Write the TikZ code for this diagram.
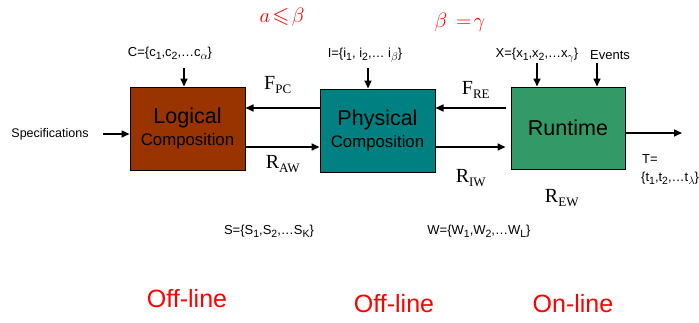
\documentclass[tikz,border=0pt]{standalone}
\usepackage{amssymb}
\usepackage{fontspec}
\setmainfont{Liberation Sans}
\newfontfamily\serifont{Liberation Serif}
\usetikzlibrary{arrows.meta}
\definecolor{brn}{HTML}{993300}
\definecolor{tel}{HTML}{008080}
\definecolor{grn}{HTML}{339966}
\newcommand{\sbs}[1]{\raisebox{-3pt}{\fontsize{10.5}{10.5}\selectfont #1}}
\tikzset{
  blk/.style={draw=black, line width=1pt, minimum width=115pt, minimum height=83pt, inner sep=0pt, align=center},
  arr/.style={-{Triangle[length=8pt,width=7pt]}, line width=1.6pt},
  setlab/.style={font=\fontsize{13}{15}\selectfont, inner sep=1pt},
  rel/.style={font=\serifont\fontsize{20}{22}\selectfont, inner sep=1pt},
  mode/.style={text=red, font=\fontsize{25}{28}\selectfont, inner sep=1pt},
  cond/.style={text=red, font=\fontsize{22}{26}\selectfont, inner sep=1pt}
}
\begin{document}
\begin{tikzpicture}[x=1pt,y=-1pt]
\clip (0,0) rectangle (699,322);
\fill[white] (0,0) rectangle (699,322);
% blocks
\node[blk, fill=brn] (logic) at (187.5,128.5) {{\fontsize{21.5}{24}\selectfont Logical}\\[4pt]{\fontsize{16.8}{19}\selectfont Composition}};
\node[blk, fill=tel] (phys) at (377.5,130.5) {{\fontsize{21.5}{24}\selectfont Physical}\\[4pt]{\fontsize{16.8}{19}\selectfont Composition}};
\node[blk, fill=grn, minimum width=114pt, minimum height=82pt] (run) at (568,128) {\fontsize{21.5}{24}\selectfont Runtime};
% conditions
\node[cond] (c1) at (282,17) {$a\!\leqslant\!\beta$};
\node[cond] (c2) at (460,22) {$\beta\,=\!\gamma$};
% sets above
\node[setlab] (cset) at (170,53) {C=\{c\sbs{1},c\sbs{2},\dots c\sbs{$\alpha$}\}};
\node[setlab] (iset) at (365,55) {I=\{i\sbs{1}, i\sbs{2},\dots\ i\sbs{$\beta$}\}};
\node[setlab] (xset) at (537,55) {X=\{x\sbs{1},x\sbs{2},\dots x\sbs{$\gamma$}\}};
\node[setlab] (ev) at (610,55) {Events};
\coordinate (ca) at (184,68);
\coordinate (ia) at (368,68);
\coordinate (xa) at (537,63);
\coordinate (ea) at (597,63);
\draw[arr] (ca) -- (ca |- logic.north);
\draw[arr] (ia) -- (ia |- phys.north);
\draw[arr] (xa) -- (xa |- run.north);
\draw[arr] (ea) -- (ea |- run.north);
% specifications
\node[setlab, font=\fontsize{12.5}{15}\selectfont] (spec) at (50,134) {Specifications};
\draw[arr] ([xshift=13pt]spec.east) -- (logic.west |- spec);
% feedback / forward arrows
\coordinate (fy) at (0,108);
\coordinate (ry) at (0,147);
\draw[arr] (phys.west |- fy) -- (logic.east |- fy);
\draw[arr] (logic.east |- ry) -- (phys.west |- ry);
\draw[arr] ([xshift=-5pt]run.west |- fy) -- (phys.east |- fy);
\draw[arr] (phys.east |- ry) -- ([xshift=-5pt]run.west |- ry);
\coordinate (out) at (682,133);
\draw[arr] (run.east |- out) -- (out);
% relation labels
\node[rel] (fpc) at (278,85) {F\textsubscript{\fontsize{13}{13}\selectfont PC}};
\node[rel] (fre) at (476,90) {F\textsubscript{\fontsize{13}{13}\selectfont RE}};
\node[rel] (raw) at (283,164) {R\textsubscript{\fontsize{13}{13}\selectfont AW}};
\node[rel] (riw) at (471,178) {R\textsubscript{\fontsize{13}{13}\selectfont IW}};
\node[rel] (rew) at (562,198) {R\textsubscript{\fontsize{13}{13}\selectfont EW}};
% T output
\node[setlab, anchor=west] (tl1) at (641,159) {T=};
\node[setlab, anchor=west] (tl2) at (640,178) {\{t\sbs{1},t\sbs{2},\dots t\sbs{$\lambda$}\}};
% S and W
\node[setlab] (sset) at (269,231) {S=\{S\sbs{1},S\sbs{2},\dots S\sbs{K}\}};
\node[setlab] (wset) at (479,231) {W=\{W\sbs{1},W\sbs{2},\dots W\sbs{L}\}};
% modes
\node[mode] (m1) at (187,299) {Off-line};
\node[mode] (m2) at (394,304) {Off-line};
\node[mode] (m3) at (573,304) {On-line};
\end{tikzpicture}
\end{document}
